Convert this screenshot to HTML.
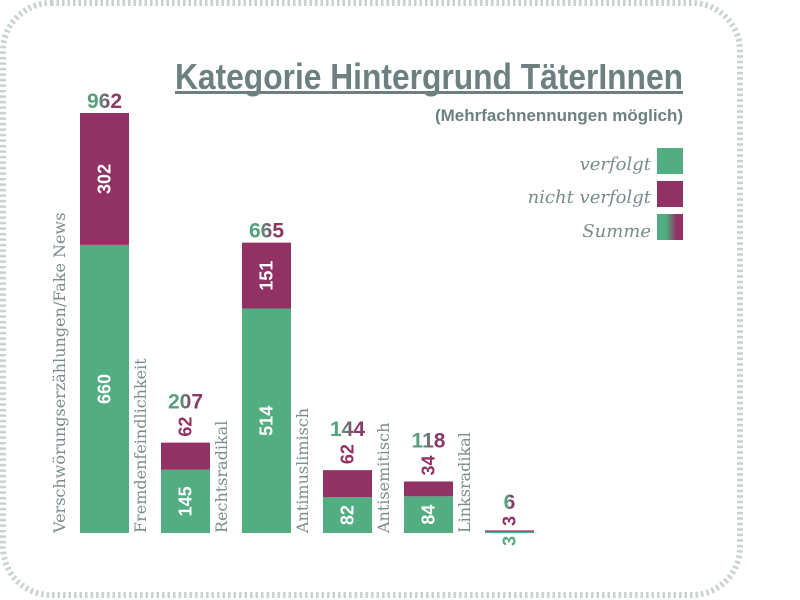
<!DOCTYPE html>
<html><head><meta charset="utf-8"><style>
html,body{margin:0;padding:0;background:#fff;}
svg{display:block;}
.cond{font-family:"Liberation Sans Narrow","Liberation Sans",sans-serif;font-weight:bold;}
.serif{font-family:"DejaVu Serif","Liberation Serif",serif;}
</style></head><body>
<svg id="chart" width="800" height="600" viewBox="0 0 800 600" xmlns="http://www.w3.org/2000/svg">
<defs>
<linearGradient id="sumGrad" x1="0" x2="1" y1="0" y2="0">
<stop offset="0.35" stop-color="#52ad80"/><stop offset="0.75" stop-color="#923164"/>
</linearGradient>
<linearGradient id="lblGrad" x1="0" x2="1" y1="0" y2="0">
<stop offset="0.3" stop-color="#55a07c"/><stop offset="0.7" stop-color="#8a3a66"/>
</linearGradient>
</defs>
<rect x="3" y="3" width="737" height="592" rx="48" fill="none" stroke="#c9d2d2" stroke-width="6" stroke-dasharray="2.5 3"/>
<text x="175" y="89" class="cond" font-size="36" fill="#6d8080" textLength="508" lengthAdjust="spacingAndGlyphs">Kategorie Hintergrund TäterInnen</text>
<rect x="175" y="91" width="508" height="3" fill="#6d8080"/>
<text x="683" y="121" text-anchor="end" class="cond" font-size="17" fill="#6d8080" textLength="248" lengthAdjust="spacingAndGlyphs">(Mehrfachnennungen möglich)</text>
<g>
<g>
<text x="651" y="170" text-anchor="end" class="serif" font-style="italic" font-size="18" fill="#7b8c8c">verfolgt</text>
<rect x="657" y="148" width="26" height="26" fill="#52ad80"/></g>
<g>
<text x="651" y="203" text-anchor="end" class="serif" font-style="italic" font-size="18" fill="#7b8c8c">nicht verfolgt</text>
<rect x="657" y="181" width="26" height="26" fill="#923164"/></g>
<g>
<text x="651" y="237" text-anchor="end" class="serif" font-style="italic" font-size="18" fill="#7b8c8c">Summe</text>
<rect x="657" y="214" width="26" height="26" fill="url(#sumGrad)"/></g>
</g>
<g id="bars"></g>
</svg>
<script>
const categories = ["Verschwörungserzählungen/Fake News","Fremdenfeindlichkeit","Rechtsradikal","Antimuslimisch","Antisemitisch","Linksradikal"];
const verfolgt = [660,145,514,82,84,3];
const nichtVerfolgt = [302,62,151,62,34,3];
const ns = "http://www.w3.org/2000/svg";
const g = document.getElementById("bars");
const baseY = 533, topY = 113, maxV = 962;
function y(v){ return baseY - v*(baseY-topY)/maxV; }
function x(i){ return 80 + i*81; }
const bw = 49;
function mk(tag, attrs, text){ const e=document.createElementNS(ns,tag); for(const k in attrs) e.setAttribute(k,attrs[k]); if(text!==undefined) e.textContent=text; g.appendChild(e); return e; }
categories.forEach((c,i)=>{
  const v1=verfolgt[i], v2=nichtVerfolgt[i], tot=v1+v2, x0=x(i);
  const r1=mk("rect",{x:x0,y:y(v1),width:bw,height:baseY-y(v1),fill:"#52ad80"});
  
  
  const r2=mk("rect",{x:x0,y:y(tot),width:bw,height:y(v1)-y(tot),fill:"#923164"});
  
  
  const cx=x0+bw/2;
  const small = (baseY-y(tot)) < 10;
  // segment labels
  let ly1 = (y(v1)+baseY)/2, ly2=(y(tot)+y(v1))/2, fill2="#fff";
  if ((y(v1)-y(tot))<28){ ly2 = y(tot)-16; fill2="#923164"; }
  if (small){ ly1 = baseY+8; ly2=baseY-12; }
  const t1=mk("text",{x:cx,y:ly1,transform:`rotate(-90 ${cx} ${ly1})`,"text-anchor":"middle","dominant-baseline":"central",class:"cond","font-size":18,fill:small?"#52ad80":"#fff"},String(v1));
  
  
  const t2=mk("text",{x:cx,y:ly2,transform:`rotate(-90 ${cx} ${ly2})`,"text-anchor":"middle","dominant-baseline":"central",class:"cond","font-size":18,fill:fill2},String(v2));
  
  
  let ty = y(tot)-5;
  if ((y(v1)-y(tot))<28) ty = y(tot)-34;
  if (small) ty = baseY-24;
  const t3=mk("text",{x:cx,y:ty,"text-anchor":"middle",class:"cond","font-size":21,fill:"url(#lblGrad)"},String(tot));
  
  
  const lx=x0-15;
  const t4=mk("text",{x:lx,y:baseY,transform:`rotate(-90 ${lx} ${baseY})`,class:"serif","font-size":16,fill:"#7b8c8c"},c);
  
  
});
</script>
</body></html>
